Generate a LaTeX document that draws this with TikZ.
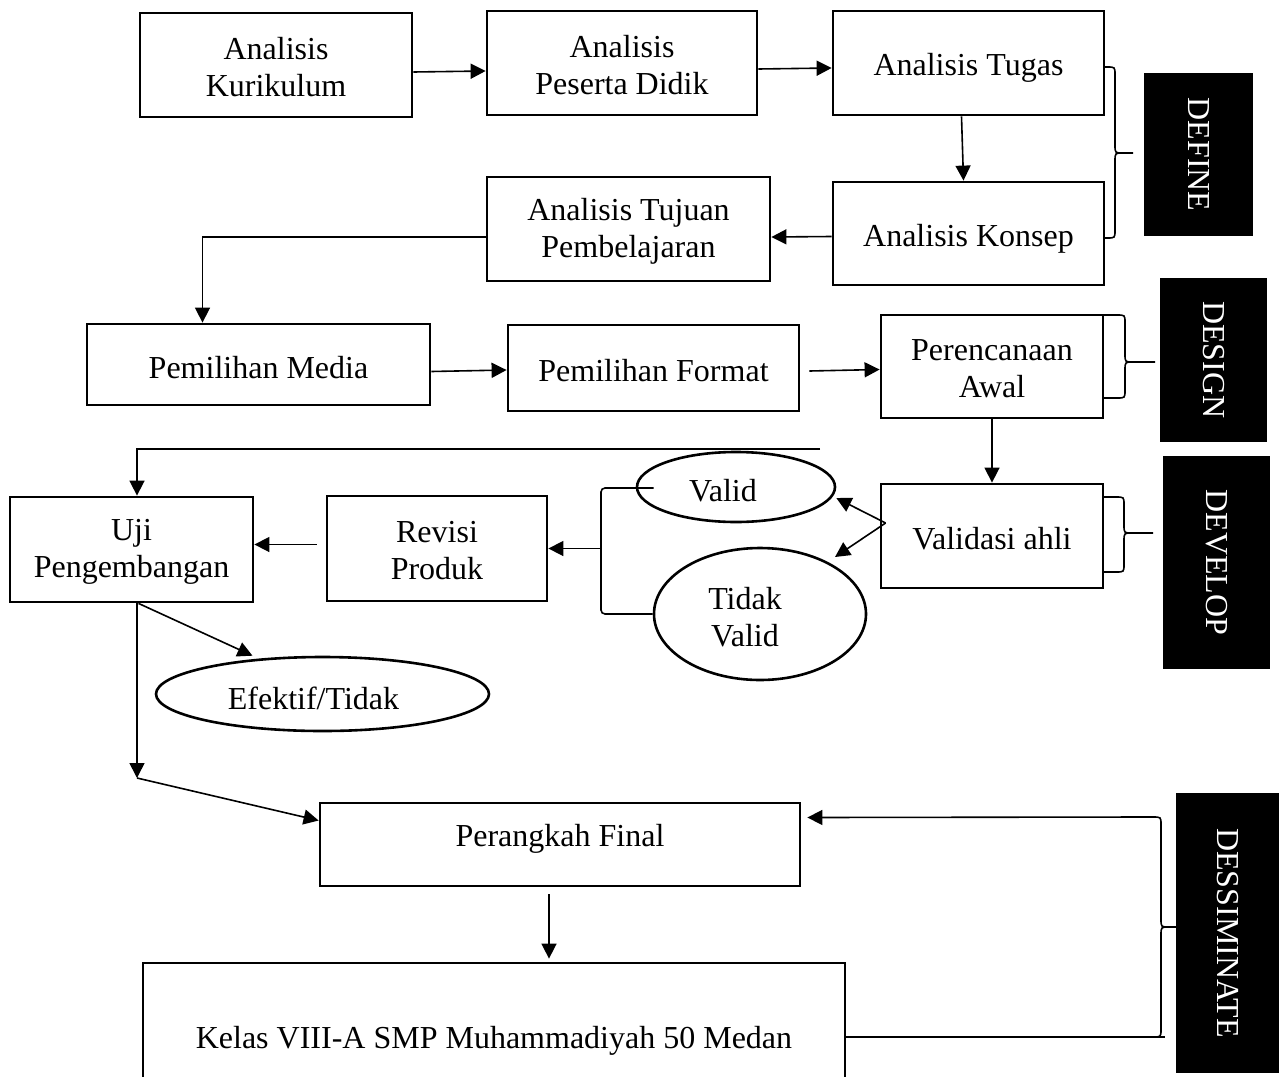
\documentclass[tikz,border=0pt]{standalone}
\usepackage{fontspec}
\setmainfont{Liberation Serif}
\usetikzlibrary{arrows.meta,shapes.geometric}
\tikzset{
  txt/.style={font=\fontsize{32}{37}\selectfont},
  box/.style={txt, draw, line width=2.8pt, align=center, inner sep=0pt},
  oval/.style={txt, draw, ellipse, line width=2.6pt, align=center, inner sep=0pt},
  conn/.style={line width=1.6pt},
  arr/.style={conn, -{Triangle[length=15pt,width=15pt]}},
  phase/.style={txt, fill=black, text=white, rotate=-90, inner sep=0pt},
}
\newcommand{\mybrace}[6]{%
  \draw[conn] (#1,#3) -- ({#2-8},#3) .. controls (#2,#3) .. (#2,{#3+8})
    -- (#2,{#4-8}) .. controls (#2,#4) .. ({#2+8},#4) -- (#6,#4);
  \draw[conn] ({#2+8},#4) .. controls (#2,#4) .. (#2,{#4+8})
    -- (#2,{#5-8}) .. controls (#2,#5) .. ({#2-8},#5) -- (#1,#5);
}
\newcommand{\dn}[2]{\raisebox{-#1pt}[\height][\depth]{#2}}
\begin{document}
\begin{tikzpicture}[x=1pt,y=-1pt]
\useasboundingbox (0,0) rectangle (1279,1076);
\clip (0,0) rectangle (1279,1076);

% define row
\node[box, minimum width=272, minimum height=104] (kur) at (276,65) {\dn{2}{Analisis}\\\dn{2}{Kurikulum}};
\node[box, minimum width=270, minimum height=104] (pes) at (622,63) {\dn{2}{Analisis}\\\dn{2}{Peserta Didik}};
\node[box, minimum width=271, minimum height=104] (tug) at (968.5,63) {\dn{5}{Analisis Tugas}};
\node[box, minimum width=271, minimum height=103] (kon) at (968.5,233.5) {\dn{5}{Analisis Konsep}};
\node[box, minimum width=283, minimum height=104] (tuj) at (628.5,229) {\dn{2}{Analisis Tujuan}\\\dn{2}{Pembelajaran}};
% design row
\node[box, minimum width=343, minimum height=81] (med) at (258.5,364.5) {\dn{3}{Pemilihan Media}};
\node[box, minimum width=291, minimum height=86] (for) at (653.5,368) {\dn{3}{Pemilihan Format}};
\node[box, minimum width=222, minimum height=103] (per) at (992,366.5) {\dn{2}{Perencanaan}\\\dn{2}{Awal}};
% develop
\node[box, minimum width=222, minimum height=104] (val) at (992,536) {\dn{3}{Validasi ahli}};
\node[oval, minimum width=198, minimum height=70] (vld) at (736,487) {\hspace*{-26pt}\dn{4}{Valid}};
\node[oval, minimum width=212, minimum height=132] (tdk) at (760,614) {\hspace*{-30pt}\dn{3}{Tidak}\\\hspace*{-30pt}\dn{3}{Valid}};
\node[box, minimum width=220, minimum height=105] (rev) at (437,548.5) {\dn{2}{Revisi}\\\dn{2}{Produk}};
\node[box, minimum width=243, minimum height=105] (uji) at (131.5,549.5) {\dn{2}{Uji}\\\dn{2}{Pengembangan}};
\node[oval, minimum width=333, minimum height=74] (efk) at (322.5,694) {\hspace*{-18pt}\dn{4}{Efektif/Tidak}};
% disseminate
\node[box, minimum width=480, minimum height=83] (fin) at (560,844.5) {\raisebox{6pt}[\height][\depth]{Perangkah Final}};
\node[box, minimum width=702, minimum height=150] (kel) at (494,1038) {\dn{3}{Kelas VIII-A SMP Muhammadiyah 50 Medan}};

% phase labels
\node[phase, minimum width=163, minimum height=109] (def) at (1198.5,154.5) {DEFINE};
\node[phase, minimum width=164, minimum height=107] (des) at (1213.5,360) {DESIGN};
\node[phase, minimum width=213, minimum height=107] (dev) at (1216.5,562.5) {DEVELOP};
\node[phase, minimum width=280, minimum height=103] (dis) at (1227.5,933) {DESSIMINATE};

% connectors
\draw[arr] ([yshift=-7]kur.east) -- ([yshift=-8]pes.west);
\draw[arr] ([yshift=-6]pes.east) -- ([yshift=-5]tug.west);
\draw[arr] ([xshift=-7]tug.south) -- ([xshift=-5]kon.north);
\draw[arr] ([yshift=-3]kon.west) -- ([yshift=-8]tuj.east);
\draw[arr] ([yshift=-8]tuj.west) -| ([xshift=-56]med.north);
\draw[arr] ([yshift=-7]med.east) -- ([yshift=-2]for.west);
\draw[arr] ([xshift=9,yshift=-3]for.east) -- ([yshift=-3]per.west);
\draw[arr] (per.south) -- (val.north);
\coordinate (vs) at ([xshift=6,yshift=13]val.west);
\draw[arr] (vs) -- ([yshift=-11]vld.east);
\draw[arr] (vs) -- ([xshift=75,yshift=57]tdk.center);
\draw[conn, rounded corners=4] ([xshift=18,yshift=-1]vld.west) -- (601,488) -- (601,614) -- (tdk.west);
\coordinate (br) at (601,548.5);
\draw[arr] (br) -- (rev.east);
\draw[arr] ([xshift=-9,yshift=4]rev.west) -- ([yshift=5]uji.east);
\coordinate (vt) at (820,449);
\draw[arr] (vt) -| ([xshift=5.5]uji.north);
\draw[arr] ([xshift=7]uji.south) -- ([xshift=-70]efk.north);
\coordinate (dn) at (137,778);
\draw[arr] ([xshift=5.5]uji.south) -- (dn);
\draw[arr] (dn) -- ([yshift=24]fin.west);
\draw[arr] ([xshift=-11,yshift=-7]fin.south) -- ([xshift=55,yshift=3]kel.north);
\draw[conn] ([yshift=1]kel.east) -- (1165,1037);
\coordinate (dt) at (1147,817);
\draw[arr] (dt) -- ([xshift=6,yshift=27]fin.east);

% braces
\mybrace{1104}{1115}{67}{153}{238}{1133}
\mybrace{1103}{1125}{315}{362}{398}{1155}
\mybrace{1103}{1124}{497}{533}{572}{1153}
\mybrace{1145}{1161}{817}{927}{1037}{1176}
\end{tikzpicture}
\end{document}
